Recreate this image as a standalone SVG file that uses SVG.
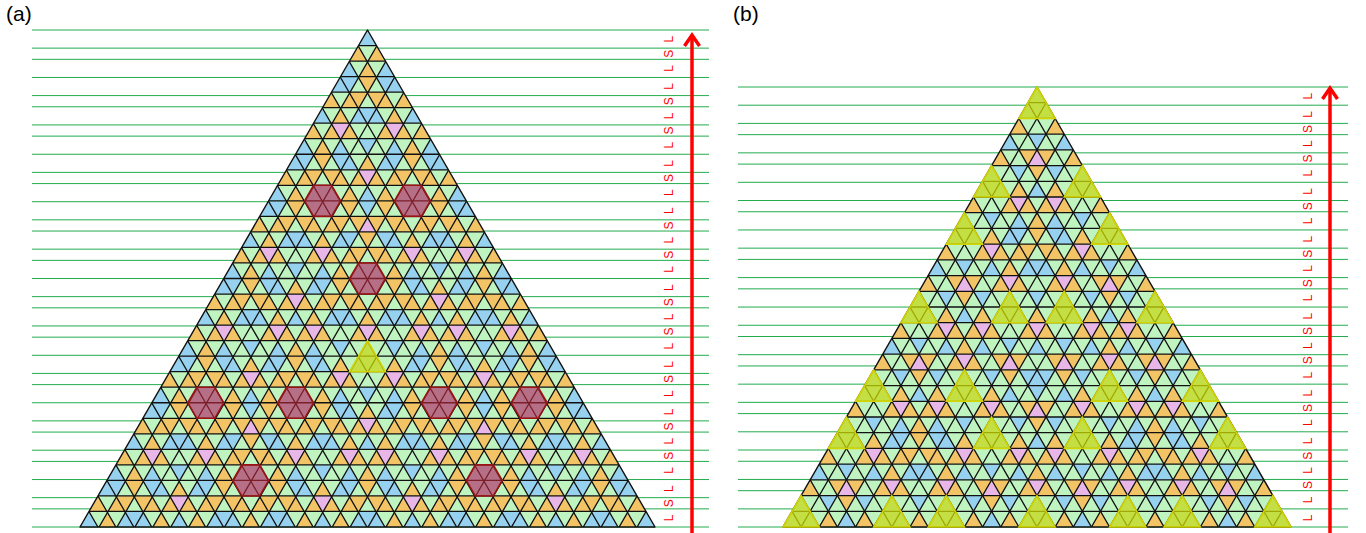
<svg xmlns="http://www.w3.org/2000/svg" xmlns:xlink="http://www.w3.org/1999/xlink" width="1366" height="533" viewBox="0 0 1366 533">
<style>
.gl{fill:none;stroke:#22ac4e;stroke-width:1}
.lab{font-family:"Liberation Sans",Arial,sans-serif;font-size:12px;fill:#f00;text-anchor:middle}
.ttl{font-family:"Liberation Sans",Arial,sans-serif;font-size:21px;fill:#000}
.arr{fill:none;stroke:#f00;stroke-width:3.5}
.bd{fill:#000;fill-opacity:.42;stroke:none}
.lat{fill:none;stroke:#111;stroke-width:1.3}
.edge{fill:none;stroke:#111;stroke-width:1.4;stroke-linejoin:round}
.hex{fill:#cc2a3c;fill-opacity:.58;stroke:#9a1414;stroke-width:1.6}
.yel{fill:#d6e400;fill-opacity:.72;stroke:#d4d400;stroke-width:1.5}
</style>
<defs>
<clipPath id="clipA"><polygon points="367.5,30 655,527 80,527"/></clipPath>
<clipPath id="clipB"><polygon points="1037,87 1291.05,527 782.95,527"/></clipPath>
<filter id="pal" filterUnits="userSpaceOnUse" x="0" y="0" width="1366" height="533" color-interpolation-filters="sRGB">
<feColorMatrix type="matrix" values="0 0 0 1 0  0 0 0 1 0  0 0 0 1 0  0 0 0 0 1"/>
<feComponentTransfer>
<feFuncR type="discrete" tableValues="0.91 0.95 0.75 0.59"/>
<feFuncG type="discrete" tableValues="0.72 0.77 0.96 0.82"/>
<feFuncB type="discrete" tableValues="0.91 0.40 0.76 0.94"/>
</feComponentTransfer>
</filter>
<g id="bandsA">
<rect class="bd" x="-400" width="1540" y="511.469" height="23.531"/>
<rect class="bd" x="-400" width="1540" y="464.875" height="31.063"/>
<rect class="bd" x="-400" width="1540" y="433.813" height="15.531"/>
<rect class="bd" x="-400" width="1540" y="387.219" height="31.062"/>
<rect class="bd" x="-400" width="1540" y="340.625" height="31.063"/>
<rect class="bd" x="-400" width="1540" y="309.563" height="15.531"/>
<rect class="bd" x="-400" width="1540" y="262.969" height="31.062"/>
<rect class="bd" x="-400" width="1540" y="231.906" height="15.532"/>
<rect class="bd" x="-400" width="1540" y="185.313" height="31.062"/>
<rect class="bd" x="-400" width="1540" y="138.719" height="31.062"/>
<rect class="bd" x="-400" width="1540" y="107.656" height="15.532"/>
<rect class="bd" x="-400" width="1540" y="61.063" height="31.062"/>
<rect class="bd" x="-400" width="1540" y="22" height="23.531"/>
</g>
<g id="bandsB">
<rect class="bd" x="400" width="1280" y="495.571" height="39.429"/>
<rect class="bd" x="400" width="1280" y="464.143" height="15.714"/>
<rect class="bd" x="400" width="1280" y="417" height="31.429"/>
<rect class="bd" x="400" width="1280" y="369.857" height="31.429"/>
<rect class="bd" x="400" width="1280" y="338.429" height="15.714"/>
<rect class="bd" x="400" width="1280" y="291.286" height="31.428"/>
<rect class="bd" x="400" width="1280" y="259.857" height="15.714"/>
<rect class="bd" x="400" width="1280" y="212.714" height="31.429"/>
<rect class="bd" x="400" width="1280" y="165.571" height="31.429"/>
<rect class="bd" x="400" width="1280" y="134.143" height="15.714"/>
<rect class="bd" x="400" width="1280" y="79" height="39.429"/>
</g>
<path id="linesA" class="lat" d="M-400 511.469H1140M-400 495.938H1140M-400 480.406H1140M-400 464.875H1140M-400 449.344H1140M-400 433.813H1140M-400 418.281H1140M-400 402.75H1140M-400 387.219H1140M-400 371.688H1140M-400 356.156H1140M-400 340.625H1140M-400 325.094H1140M-400 309.563H1140M-400 294.031H1140M-400 278.5H1140M-400 262.969H1140M-400 247.438H1140M-400 231.906H1140M-400 216.375H1140M-400 200.844H1140M-400 185.313H1140M-400 169.781H1140M-400 154.25H1140M-400 138.719H1140M-400 123.188H1140M-400 107.656H1140M-400 92.125H1140M-400 76.594H1140M-400 61.063H1140M-400 45.531H1140"/>
<path id="linesB" class="lat" d="M400 511.286H1680M400 495.571H1680M400 479.857H1680M400 464.143H1680M400 448.429H1680M400 432.714H1680M400 417H1680M400 401.286H1680M400 385.571H1680M400 369.857H1680M400 354.143H1680M400 338.429H1680M400 322.714H1680M400 307H1680M400 291.286H1680M400 275.571H1680M400 259.857H1680M400 244.143H1680M400 228.429H1680M400 212.714H1680M400 197H1680M400 181.286H1680M400 165.571H1680M400 149.857H1680M400 134.143H1680M400 118.429H1680M400 102.714H1680"/>
</defs>

<g id="panel-a">
<text class="ttl" x="6" y="21">(a)</text>
<path id="grid-lines-a" class="gl" d="M32 527H709M32 508.87H709M32 497.67H709M32 479.54H709M32 461.41H709M32 450.21H709M32 432.08H709M32 420.88H709M32 402.75H709M32 384.62H709M32 373.42H709M32 355.29H709M32 337.16H709M32 325.96H709M32 307.83H709M32 296.63H709M32 278.5H709M32 260.37H709M32 249.17H709M32 231.04H709M32 219.84H709M32 201.71H709M32 183.58H709M32 172.38H709M32 154.25H709M32 136.12H709M32 124.92H709M32 106.79H709M32 95.59H709M32 77.46H709M32 59.33H709M32 48.13H709M32 30H709"/>
<g id="tiling-a" clip-path="url(#clipA)">
<g filter="url(#pal)">
<use xlink:href="#bandsA"/>
<use xlink:href="#bandsA" transform="rotate(120 367.5 361.667)"/>
<use xlink:href="#bandsA" transform="rotate(-120 367.5 361.667)"/>
</g>
<use xlink:href="#linesA"/>
<use xlink:href="#linesA" transform="rotate(120 367.5 361.667)"/>
<use xlink:href="#linesA" transform="rotate(-120 367.5 361.667)"/>
</g>
<polygon class="edge" points="367.5,30 655,527 80,527"/>
<g id="hexagons-a">
<polygon id="hex1" class="hex" points="304.609,200.844 313.594,185.313 331.563,185.313 340.547,200.844 331.563,216.375 313.594,216.375"/>
<polygon id="hex2" class="hex" points="394.453,200.844 403.438,185.313 421.406,185.313 430.391,200.844 421.406,216.375 403.438,216.375"/>
<polygon id="hex3" class="hex" points="349.531,278.5 358.516,262.969 376.484,262.969 385.469,278.5 376.484,294.031 358.516,294.031"/>
<polygon id="hex4" class="hex" points="187.813,402.75 196.797,387.219 214.766,387.219 223.75,402.75 214.766,418.281 196.797,418.281"/>
<polygon id="hex5" class="hex" points="277.656,402.75 286.641,387.219 304.609,387.219 313.594,402.75 304.609,418.281 286.641,418.281"/>
<polygon id="hex6" class="hex" points="421.406,402.75 430.391,387.219 448.359,387.219 457.344,402.75 448.359,418.281 430.391,418.281"/>
<polygon id="hex7" class="hex" points="511.25,402.75 520.234,387.219 538.203,387.219 547.188,402.75 538.203,418.281 520.234,418.281"/>
<polygon id="hex8" class="hex" points="232.734,480.406 241.719,464.875 259.688,464.875 268.672,480.406 259.688,495.938 241.719,495.938"/>
<polygon id="hex9" class="hex" points="466.328,480.406 475.313,464.875 493.281,464.875 502.266,480.406 493.281,495.938 475.313,495.938"/>
</g>
<polygon id="tri-a" class="yel" points="367.5,340.625 385.469,371.688 349.531,371.688"/>
<g id="labels-a" class="lab">
<text transform="translate(669 517.94) rotate(-90)" dy="4.3">L</text>
<text transform="translate(669 503.27) rotate(-90)" dy="4.3">S</text>
<text transform="translate(669 488.61) rotate(-90)" dy="4.3">L</text>
<text transform="translate(669 470.48) rotate(-90)" dy="4.3">L</text>
<text transform="translate(669 455.81) rotate(-90)" dy="4.3">S</text>
<text transform="translate(669 441.15) rotate(-90)" dy="4.3">L</text>
<text transform="translate(669 426.48) rotate(-90)" dy="4.3">S</text>
<text transform="translate(669 411.82) rotate(-90)" dy="4.3">L</text>
<text transform="translate(669 393.69) rotate(-90)" dy="4.3">L</text>
<text transform="translate(669 379.02) rotate(-90)" dy="4.3">S</text>
<text transform="translate(669 364.36) rotate(-90)" dy="4.3">L</text>
<text transform="translate(669 346.23) rotate(-90)" dy="4.3">L</text>
<text transform="translate(669 331.56) rotate(-90)" dy="4.3">S</text>
<text transform="translate(669 316.9) rotate(-90)" dy="4.3">L</text>
<text transform="translate(669 302.23) rotate(-90)" dy="4.3">S</text>
<text transform="translate(669 287.57) rotate(-90)" dy="4.3">L</text>
<text transform="translate(669 269.44) rotate(-90)" dy="4.3">L</text>
<text transform="translate(669 254.77) rotate(-90)" dy="4.3">S</text>
<text transform="translate(669 240.11) rotate(-90)" dy="4.3">L</text>
<text transform="translate(669 225.44) rotate(-90)" dy="4.3">S</text>
<text transform="translate(669 210.78) rotate(-90)" dy="4.3">L</text>
<text transform="translate(669 192.65) rotate(-90)" dy="4.3">L</text>
<text transform="translate(669 177.98) rotate(-90)" dy="4.3">S</text>
<text transform="translate(669 163.32) rotate(-90)" dy="4.3">L</text>
<text transform="translate(669 145.19) rotate(-90)" dy="4.3">L</text>
<text transform="translate(669 130.52) rotate(-90)" dy="4.3">S</text>
<text transform="translate(669 115.86) rotate(-90)" dy="4.3">L</text>
<text transform="translate(669 101.19) rotate(-90)" dy="4.3">S</text>
<text transform="translate(669 86.53) rotate(-90)" dy="4.3">L</text>
<text transform="translate(669 68.4) rotate(-90)" dy="4.3">L</text>
<text transform="translate(669 53.73) rotate(-90)" dy="4.3">S</text>
<text transform="translate(669 39.07) rotate(-90)" dy="4.3">L</text>
</g>
<g id="arrow-a" class="arr">
<line x1="692" y1="533" x2="692" y2="35"/>
<polyline points="684.5,46 692,35 699.5,46"/>
</g>
</g>

<g id="panel-b">
<text class="ttl" x="733" y="21">(b)</text>
<path id="grid-lines-b" class="gl" d="M738 527H1348M738 508.9H1348M738 490.7H1348M738 479.45H1348M738 461.25H1348M738 450H1348M738 431.8H1348M738 413.6H1348M738 402.35H1348M738 384.15H1348M738 365.95H1348M738 354.7H1348M738 336.5H1348M738 325.25H1348M738 307.05H1348M738 288.85H1348M738 277.6H1348M738 259.4H1348M738 248.15H1348M738 229.95H1348M738 211.75H1348M738 200.5H1348M738 182.3H1348M738 164.1H1348M738 152.85H1348M738 134.65H1348M738 123.4H1348M738 105.2H1348M738 87H1348"/>
<g id="tiling-b" clip-path="url(#clipB)">
<g filter="url(#pal)">
<use xlink:href="#bandsB"/>
<use xlink:href="#bandsB" transform="rotate(120 1037 380.333)"/>
<use xlink:href="#bandsB" transform="rotate(-120 1037 380.333)"/>
</g>
<use xlink:href="#linesB"/>
<use xlink:href="#linesB" transform="rotate(120 1037 380.333)"/>
<use xlink:href="#linesB" transform="rotate(-120 1037 380.333)"/>
</g>
<polygon class="edge" points="1037,87 1291.05,527 782.95,527"/>
<g id="triangles-b">
<polygon class="yel" points="1037,87 1055.146,118.429 1018.854,118.429"/>
<polygon class="yel" points="801.097,495.571 819.24,527 782.95,527"/>
<polygon class="yel" points="1272.903,495.571 1291.05,527 1254.757,527"/>
<polygon class="yel" points="891.829,495.571 909.975,527 873.683,527"/>
<polygon class="yel" points="946.268,495.571 964.414,527 928.122,527"/>
<polygon class="yel" points="1037,495.571 1055.146,527 1018.854,527"/>
<polygon class="yel" points="1127.732,495.571 1145.878,527 1109.586,527"/>
<polygon class="yel" points="1182.171,495.571 1200.317,527 1164.025,527"/>
<polygon class="yel" points="846.463,417 864.609,448.429 828.317,448.429"/>
<polygon class="yel" points="991.634,417 1009.78,448.429 973.488,448.429"/>
<polygon class="yel" points="1082.366,417 1100.512,448.429 1064.22,448.429"/>
<polygon class="yel" points="1227.537,417 1245.683,448.429 1209.391,448.429"/>
<polygon class="yel" points="873.682,369.857 891.828,401.286 855.536,401.286"/>
<polygon class="yel" points="964.414,369.857 982.56,401.286 946.268,401.286"/>
<polygon class="yel" points="1109.586,369.857 1127.732,401.286 1091.44,401.286"/>
<polygon class="yel" points="1200.318,369.857 1218.464,401.286 1182.172,401.286"/>
<polygon class="yel" points="919.048,291.286 937.194,322.714 900.902,322.714"/>
<polygon class="yel" points="1009.78,291.286 1027.926,322.714 991.634,322.714"/>
<polygon class="yel" points="1064.22,291.286 1082.366,322.714 1046.074,322.714"/>
<polygon class="yel" points="1154.952,291.286 1173.098,322.714 1136.806,322.714"/>
<polygon class="yel" points="964.414,212.714 982.56,244.143 946.268,244.143"/>
<polygon class="yel" points="1109.586,212.714 1127.732,244.143 1091.44,244.143"/>
<polygon class="yel" points="991.634,165.571 1009.78,197 973.488,197"/>
<polygon class="yel" points="1082.366,165.571 1100.512,197 1064.22,197"/>
</g>
<g id="labels-b" class="lab">
<text transform="translate(1307.5 517.95) rotate(-90)" dy="4.3">L</text>
<text transform="translate(1307.5 499.8) rotate(-90)" dy="4.3">L</text>
<text transform="translate(1307.5 485.08) rotate(-90)" dy="4.3">S</text>
<text transform="translate(1307.5 470.35) rotate(-90)" dy="4.3">L</text>
<text transform="translate(1307.5 455.63) rotate(-90)" dy="4.3">S</text>
<text transform="translate(1307.5 440.9) rotate(-90)" dy="4.3">L</text>
<text transform="translate(1307.5 422.7) rotate(-90)" dy="4.3">L</text>
<text transform="translate(1307.5 407.98) rotate(-90)" dy="4.3">S</text>
<text transform="translate(1307.5 393.25) rotate(-90)" dy="4.3">L</text>
<text transform="translate(1307.5 375.05) rotate(-90)" dy="4.3">L</text>
<text transform="translate(1307.5 360.33) rotate(-90)" dy="4.3">S</text>
<text transform="translate(1307.5 345.6) rotate(-90)" dy="4.3">L</text>
<text transform="translate(1307.5 330.88) rotate(-90)" dy="4.3">S</text>
<text transform="translate(1307.5 316.15) rotate(-90)" dy="4.3">L</text>
<text transform="translate(1307.5 297.95) rotate(-90)" dy="4.3">L</text>
<text transform="translate(1307.5 283.23) rotate(-90)" dy="4.3">S</text>
<text transform="translate(1307.5 268.5) rotate(-90)" dy="4.3">L</text>
<text transform="translate(1307.5 253.78) rotate(-90)" dy="4.3">S</text>
<text transform="translate(1307.5 239.05) rotate(-90)" dy="4.3">L</text>
<text transform="translate(1307.5 220.85) rotate(-90)" dy="4.3">L</text>
<text transform="translate(1307.5 206.13) rotate(-90)" dy="4.3">S</text>
<text transform="translate(1307.5 191.4) rotate(-90)" dy="4.3">L</text>
<text transform="translate(1307.5 173.2) rotate(-90)" dy="4.3">L</text>
<text transform="translate(1307.5 158.48) rotate(-90)" dy="4.3">S</text>
<text transform="translate(1307.5 143.75) rotate(-90)" dy="4.3">L</text>
<text transform="translate(1307.5 129.03) rotate(-90)" dy="4.3">S</text>
<text transform="translate(1307.5 114.3) rotate(-90)" dy="4.3">L</text>
<text transform="translate(1307.5 96.1) rotate(-90)" dy="4.3">L</text>
</g>
<g id="arrow-b" class="arr">
<line x1="1330" y1="533" x2="1330" y2="89"/>
<polyline points="1322.5,99 1330,88 1337.5,99"/>
</g>
</g>
</svg>
